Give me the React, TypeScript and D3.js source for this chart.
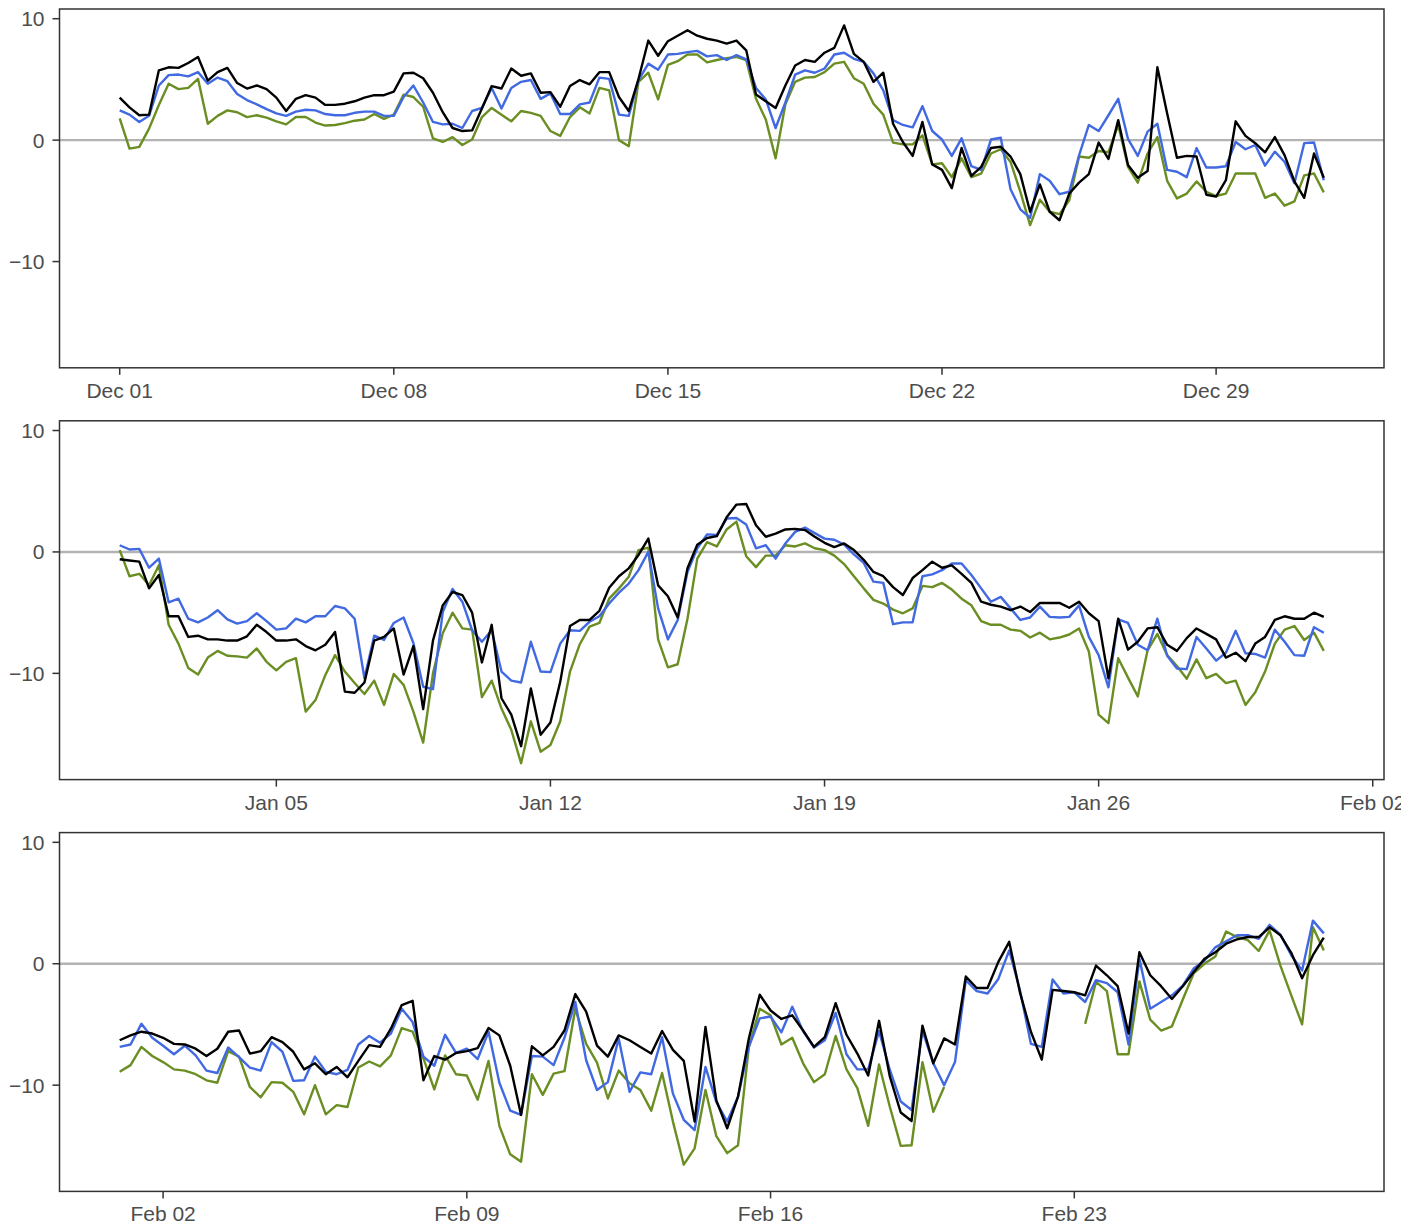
import React from "react";
import * as d3 from "d3";

// ---- December 2019 (6-hourly) ----
const decBlack = [3.5, 2.7, 2.05, 2.1, 5.75, 6.0, 5.95, 6.35, 6.85, 4.9, 5.6, 5.95, 4.7, 4.25, 4.5, 4.2, 3.5, 2.4, 3.4, 3.7, 3.5, 2.9, 2.9, 3.0, 3.2, 3.5, 3.7, 3.7, 4.0, 5.5, 5.55, 5.1, 3.9, 2.3, 1.0, 0.75, 0.8, 2.6, 4.45, 4.25, 5.9, 5.3,
  5.5, 3.9, 3.95, 2.75, 4.45, 4.95, 4.6, 5.6, 5.6, 3.55, 2.4, 5.05, 8.2, 6.95, 8.15, 8.6, 9.05, 8.6, 8.35, 8.2, 7.95, 8.2, 7.4, 3.75, 3.2, 2.65, 4.5, 6.15, 6.6, 6.45, 7.2, 7.6, 9.45, 7.1, 6.45, 4.8, 5.55, 1.35, -0.15, -1.3, 1.5,
  -2.0, -2.45, -3.95, -0.65, -2.95, -2.2, -0.65, -0.55, -1.35, -2.8, -5.9, -3.65, -5.9, -6.6, -4.4, -3.5, -2.8, -0.2, -1.55, 1.65, -2.05, -3.1, -2.55, 6.0, 2.2, -1.45, -1.3, -1.35, -4.5, -4.65, -3.3, 1.55, 0.35, -0.25, -1.0, 0.25, -1.25, -3.4, -4.75, -1.1, -3.1];
const decBlue = [2.45, 2.1, 1.5, 2.0, 4.5, 5.35, 5.4, 5.25, 5.6, 4.65, 5.15, 4.85, 3.8, 3.3, 2.95, 2.55, 2.2, 2.0, 2.35, 2.5, 2.45, 2.15, 2.05, 2.05, 2.25, 2.35, 2.35, 2.0, 2.0, 3.55, 4.5, 3.1, 1.5, 1.3, 1.35, 1.0, 2.4, 2.65, 4.3, 2.6, 4.3, 4.8,
  4.95, 3.4, 3.85, 2.15, 2.15, 2.95, 3.1, 5.15, 5.05, 2.1, 2.0, 4.95, 6.3, 5.8, 7.05, 7.1, 7.25, 7.35, 6.9, 7.0, 6.6, 7.0, 6.65, 4.3, 3.35, 1.0, 3.1, 5.4, 5.75, 5.55, 5.9, 7.05, 7.2, 6.7, 6.45, 5.5, 4.1, 1.65, 1.25, 1.05, 2.8,
  0.75, 0.05, -1.3, 0.15, -2.15, -2.45, 0.05, 0.2, -4.05, -5.7, -6.4, -2.8, -3.35, -4.45, -4.25, -1.25, 1.25, 0.75, 2.05, 3.4, 0.1, -1.3, 0.7, 1.35, -2.45, -2.6, -3.05, -0.65, -2.25, -2.25, -2.15, -0.15, -0.75, -0.4, -2.1, -0.95, -1.8, -3.55, -0.25, -0.2, -3.3];
const decGreen = [1.8, -0.7, -0.55, 0.95, 2.9, 4.65, 4.2, 4.3, 5.05, 1.35, 2.0, 2.45, 2.3, 1.9, 2.05, 1.85, 1.55, 1.3, 1.9, 1.9, 1.45, 1.2, 1.25, 1.4, 1.6, 1.7, 2.15, 1.75, 2.1, 3.75, 3.55, 2.75, 0.15, -0.15, 0.25, -0.4, 0.05, 1.9, 2.65, 2.1, 1.55, 2.4,
  2.25, 2.0, 0.75, 0.35, 1.9, 2.7, 2.2, 4.3, 4.1, 0.0, -0.5, 4.8, 5.55, 3.35, 6.2, 6.5, 7.05, 7.05, 6.4, 6.6, 6.75, 6.85, 6.6, 3.4, 1.7, -1.5, 2.95, 4.8, 5.15, 5.2, 5.6, 6.3, 6.45, 5.1, 4.65, 3.0, 2.1, -0.2, -0.35, -0.35, 0.4,
  -2.0, -1.9, -3.05, -1.5, -3.05, -2.75, -1.1, -0.75, -1.8, -4.25, -7.0, -4.9, -5.9, -6.1, -4.95, -1.35, -1.45, -0.9, -1.0, 1.25, -2.2, -3.5, -1.1, 0.25, -3.35, -4.8, -4.4, -3.4, -4.25, -4.6, -4.4, -2.75, -2.75, -2.75, -4.75, -4.4, -5.4, -5.05, -2.9, -2.75, -4.3];

// ---- January 2020 ----
const janBlack = [-0.6, -0.7, -0.8, -3.0, -1.9, -5.3, -5.3, -7.0, -6.9, -7.2, -7.2, -7.3, -7.3, -6.95, -6.0, -6.6, -7.3, -7.3, -7.2, -7.75, -8.1, -7.65, -6.6, -11.5, -11.6, -10.75, -7.3, -7.0, -6.3, -10.1, -7.75, -12.95, -7.3, -4.4, -3.3, -3.55, -5.0, -9.1, -6.0, -12.05, -13.4, -16.0,
  -11.25, -15.05, -14.05, -10.7, -6.1, -5.6, -5.6, -4.85, -2.95, -2.0, -1.35, -0.25, 1.1, -2.75, -3.65, -5.4, -1.35, 0.6, 1.15, 1.3, 2.85, 3.9, 3.95, 2.2, 1.25, 1.5, 1.85, 1.9, 1.8, 1.25, 0.75, 0.4, 0.7, 0.15, -0.65, -1.65, -2.0, -2.9, -3.55, -2.15, -1.5,
  -0.8, -1.3, -1.1, -1.8, -2.55, -4.1, -4.35, -4.5, -4.8, -4.5, -4.95, -4.2, -4.2, -4.2, -4.6, -4.1, -5.05, -5.7, -10.4, -5.5, -8.05, -7.4, -6.3, -6.2, -7.65, -8.15, -7.1, -6.3, -6.75, -7.2, -8.7, -8.3, -9.0, -7.55, -7.0, -5.6, -5.3, -5.5, -5.5, -5.0, -5.35];
const janBlue = [0.55, 0.2, 0.25, -1.3, -0.55, -4.15, -3.85, -5.5, -5.8, -5.4, -4.8, -5.55, -5.9, -5.7, -5.05, -5.7, -6.4, -6.3, -5.5, -5.8, -5.3, -5.3, -4.45, -4.65, -5.5, -10.4, -6.9, -7.25, -5.85, -5.4, -7.5, -11.1, -11.3, -4.95, -3.05, -4.1, -6.45, -7.4, -6.45, -9.85, -10.6, -10.75,
  -7.4, -9.85, -9.9, -7.55, -6.45, -6.5, -5.75, -5.3, -4.25, -3.35, -2.6, -1.5, 0.0, -4.65, -7.2, -5.6, -1.65, 0.3, 1.45, 1.4, 2.75, 2.8, 2.25, 0.3, 0.55, -0.55, 0.7, 1.65, 2.0, 1.55, 1.1, 1.0, 0.6, -0.2, -0.9, -2.45, -2.55, -5.95, -5.8, -5.8, -2.0,
  -1.85, -1.5, -0.95, -0.95, -1.9, -3.0, -4.1, -3.7, -4.65, -5.6, -5.4, -4.5, -5.35, -5.4, -5.35, -4.4, -7.0, -8.5, -11.15, -5.55, -5.85, -7.65, -8.1, -5.5, -8.55, -9.6, -9.65, -7.0, -7.95, -8.95, -8.3, -6.5, -8.35, -8.4, -8.7, -6.4, -7.4, -8.5, -8.55, -6.2, -6.65];
const janGreen = [0.15, -2.0, -1.8, -2.75, -1.1, -6.0, -7.55, -9.55, -10.1, -8.7, -8.15, -8.55, -8.6, -8.7, -7.95, -9.05, -9.75, -9.05, -8.75, -13.15, -12.2, -10.15, -8.5, -9.85, -10.8, -11.7, -10.6, -12.6, -10.05, -10.95, -13.15, -15.7, -10.0, -6.7, -5.0, -6.3, -6.4, -11.95, -10.6, -12.9, -14.65, -17.4,
  -13.95, -16.45, -15.9, -13.95, -9.85, -7.6, -6.15, -5.85, -3.85, -3.0, -2.05, 0.15, 0.35, -7.2, -9.5, -9.25, -5.5, -0.55, 0.8, 0.45, 1.85, 2.5, -0.35, -1.25, -0.3, -0.3, 0.55, 0.45, 0.7, 0.3, 0.15, -0.3, -1.0, -2.0, -3.0, -3.95, -4.25, -4.75, -5.05, -4.65, -2.8,
  -2.9, -2.55, -3.1, -3.85, -4.4, -5.7, -6.0, -6.0, -6.4, -6.5, -7.05, -6.65, -7.2, -7.05, -6.8, -6.3, -8.2, -13.4, -14.1, -8.75, -10.35, -11.9, -8.1, -6.75, -8.5, -9.4, -10.45, -8.85, -10.4, -10.05, -10.8, -10.6, -12.6, -11.55, -9.85, -7.55, -6.4, -6.1, -7.25, -6.65, -8.15];

// ---- February 2020 ----
const febBlack = [-6.3, -5.9, -5.6, -5.75, -6.1, -6.6, -6.65, -7.0, -7.6, -7.0, -5.6, -5.5, -7.4, -7.2, -6.05, -6.45, -7.25, -8.7, -8.2, -9.1, -8.5, -9.35, -8.0, -6.7, -6.85, -5.35, -3.4, -3.05, -9.6, -7.6, -7.9, -7.35, -7.2, -6.95, -5.3, -5.9, -8.4, -12.45,
  -6.8, -7.55, -6.85, -5.5, -2.5, -3.95, -6.75, -7.65, -5.9, -6.3, -6.85, -7.4, -5.55, -7.1, -8.0, -13.0, -5.2, -11.25, -13.55, -10.95, -6.15, -2.55, -3.85, -4.55, -4.25, -5.5, -6.85, -6.05, -3.25, -5.85, -7.4, -9.2, -4.7, -9.3, -12.25, -12.95, -5.1,
  -8.2, -6.15, -6.65, -1.05, -2.0, -2.0, 0.15, 1.8, -2.4, -5.6, -7.9, -2.15, -2.25, -2.35, -2.6, -0.15, -0.95, -1.85, -5.75, 0.95, -0.95, -1.85, -2.9, -1.85, -0.7, 0.4, 0.95, 1.65, 2.0, 2.2, 2.2, 3.0, 2.35, 0.9, -1.2, 0.7, 2.15];
const febBlue = [-6.85, -6.65, -4.95, -6.1, -6.75, -7.45, -6.75, -7.55, -8.8, -9.0, -6.9, -7.7, -8.55, -8.8, -6.45, -7.25, -9.65, -9.6, -7.65, -8.9, -9.1, -8.75, -6.65, -5.95, -6.5, -5.75, -3.7, -4.8, -7.65, -8.4, -5.85, -7.35, -7.0, -7.85, -5.6, -9.8, -12.1, -12.45,
  -7.6, -7.65, -8.35, -6.1, -3.15, -7.95, -10.4, -9.75, -6.15, -10.55, -8.95, -9.1, -6.05, -10.7, -12.85, -13.7, -8.5, -11.4, -13.0, -10.95, -6.85, -4.5, -4.35, -5.65, -3.55, -5.55, -6.9, -6.3, -4.05, -7.45, -8.7, -8.7, -5.55, -8.75, -11.35, -12.05, -5.5,
  -8.2, -10.0, -8.1, -1.35, -2.25, -2.45, -1.25, 1.1, -2.2, -6.6, -6.85, -1.3, -2.45, -2.35, -3.15, -1.35, -1.6, -2.35, -6.65, 0.4, -3.7, -3.15, -2.6, -1.8, -0.4, 0.25, 1.35, 1.85, 2.35, 2.35, 2.05, 3.2, 2.4, 0.7, -0.55, 3.55, 2.5];
const febGreen = [-8.9, -8.35, -6.85, -7.6, -8.1, -8.7, -8.8, -9.1, -9.6, -9.8, -7.2, -7.65, -10.15, -11.0, -9.75, -9.8, -10.55, -12.4, -10.0, -12.4, -11.65, -11.8, -8.55, -8.05, -8.45, -7.55, -5.3, -5.6, -7.8, -10.35, -7.55, -9.1, -9.2, -11.2, -8.0, -13.35, -15.7, -16.3,
  -9.1, -10.8, -9.05, -8.85, -3.7, -6.6, -8.15, -11.1, -8.8, -9.85, -10.4, -12.1, -9.0, -13.0, -16.55, -15.2, -10.4, -14.2, -15.6, -14.95, -6.85, -3.7, -4.25, -6.65, -6.1, -8.2, -9.75, -9.1, -5.95, -8.7, -10.25, -13.35, -8.3, -11.8, -15.0, -14.95, -8.1,
  -12.2, -10.15, null, null, null, null, null, null, null, null, null, null, null, null, -4.95, -1.5, -2.25, -7.45, -7.45, -1.45, -4.6, -5.5, -5.15, -2.95, -0.8, 0.0, 0.6, 2.65, 2.2, 1.95, 1.05, 2.75, -0.15, -2.6, -5.0, 3.0, 1.1];

// Tick dates (UTC) per panel
const decTicks = ["2019-12-01", "2019-12-08", "2019-12-15", "2019-12-22", "2019-12-29"];
const janTicks = ["2020-01-05", "2020-01-12", "2020-01-19", "2020-01-26", "2020-02-02"];
const febTicks = ["2020-02-02", "2020-02-09", "2020-02-16", "2020-02-23"];
const yTicks = [-10, 0, 10];
const yDomain = [-18.75, 10.8];

const panels = [
  { start: "2019-12-01", black: decBlack, blue: decBlue, green: decGreen, ticks: decTicks },
  { start: "2020-01-01", black: janBlack, blue: janBlue, green: janGreen, ticks: janTicks },
  { start: "2020-02-01", black: febBlack, blue: febBlue, green: febGreen, ticks: febTicks },
];

const W = 1417;
const H = 1228;
const LEFT = 59.5;
const RIGHT = 1384;
const TOP0 = 9;
const PH = 358.8;
const STEP = 411.8;
const STEP_MS = 6 * 3600 * 1000;
const fmt = d3.utcFormat("%b %d");

function Panel({ p, top }: any) {
  const t0 = new Date(p.start + "T00:00:00Z").getTime();
  const n = p.black.length;
  const t1 = t0 + (n - 1) * STEP_MS;
  const pad = (t1 - t0) * 0.05;
  const x = d3.scaleUtc().domain([new Date(t0 - pad), new Date(t1 + pad)]).range([LEFT, RIGHT]);
  const y = d3.scaleLinear().domain(yDomain).range([top + PH, top]);
  const mk = (vals: (number | null)[]) =>
    d3
      .line<number | null>()
      .defined((d) => d != null)
      .x((_, i) => x(new Date(t0 + i * STEP_MS)))
      .y((d) => y(d as number))(vals) || "";
  const bottom = top + PH;
  return (
    <g>
      <line x1={LEFT} x2={RIGHT} y1={y(0)} y2={y(0)} stroke="#b3b3b3" strokeWidth={2.4} />
      <path d={mk(p.green)} fill="none" stroke="#6B8E23" strokeWidth={2.4} strokeLinejoin="round" />
      <path d={mk(p.blue)} fill="none" stroke="#4169E1" strokeWidth={2.4} strokeLinejoin="round" />
      <path d={mk(p.black)} fill="none" stroke="#000000" strokeWidth={2.4} strokeLinejoin="round" />
      <rect x={LEFT} y={top} width={RIGHT - LEFT} height={PH} fill="none" stroke="#333333" strokeWidth={1.5} />
      {yTicks.map((v) => (
        <g key={v}>
          <line x1={LEFT - 7} x2={LEFT} y1={y(v)} y2={y(v)} stroke="#333333" strokeWidth={1.5} />
          <text x={LEFT - 15} y={y(v)} dy="0.36em" textAnchor="end" fontSize={21} fill="#4d4d4d">
            {v < 0 ? "\u2212" + Math.abs(v) : String(v)}
          </text>
        </g>
      ))}
      {p.ticks.map((s: string) => {
        const d = new Date(s + "T00:00:00Z");
        const xx = x(d);
        return (
          <g key={s}>
            <line x1={xx} x2={xx} y1={bottom} y2={bottom + 7} stroke="#333333" strokeWidth={1.5} />
            <text x={xx} y={bottom + 30} textAnchor="middle" fontSize={21} fill="#4d4d4d">
              {fmt(d)}
            </text>
          </g>
        );
      })}
    </g>
  );
}

export default function App() {
  return (
    <svg
      width={W}
      height={H}
      style={{ position: "absolute", left: 0, top: 0, background: "#fff" }}
      fontFamily="'Liberation Sans', Arial, Helvetica, sans-serif"
    >
      <defs>
        <clipPath id="pageclip">
          <rect x={0} y={0} width={1401} height={H} />
        </clipPath>
      </defs>
      <rect x={0} y={0} width={W} height={H} fill="#fff" />
      <g clipPath="url(#pageclip)">
        {panels.map((p, i) => (
          <Panel key={i} p={p} top={TOP0 + i * STEP} />
        ))}
      </g>
    </svg>
  );
}
